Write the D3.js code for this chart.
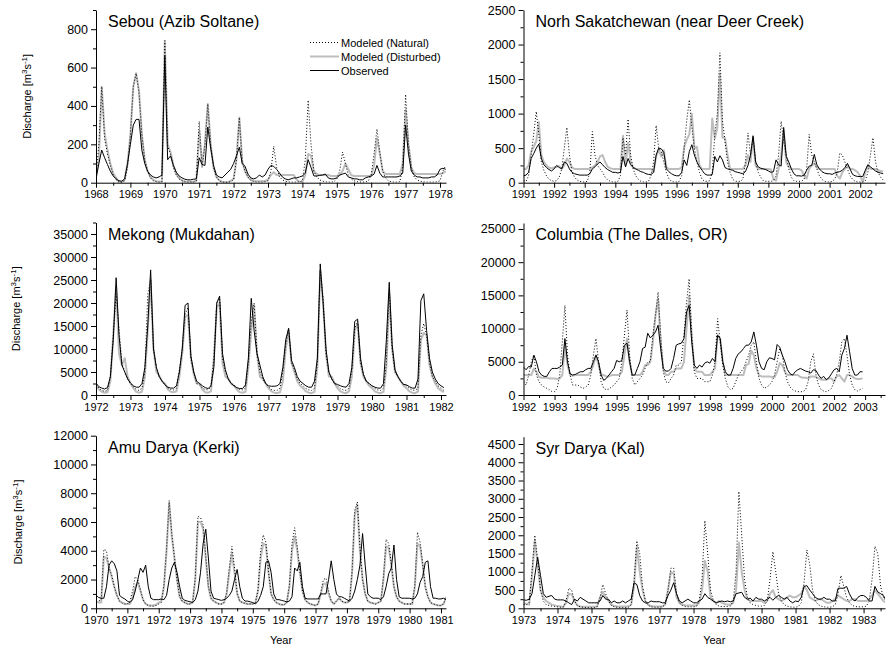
<!DOCTYPE html>
<html><head><meta charset="utf-8">
<script src="https://cdn.jsdelivr.net/npm/d3@7"></script>
<style>
body{margin:0;background:#fff}
text{font-family:Arial,"Liberation Sans",sans-serif;fill:#000}
</style>
</head><body>
<svg id="chart" width="888" height="646"></svg>
<script>
// ---------------- DATA (monthly values, first value = January of start year) ----------------
const seriesNames = ["Modeled (Natural)", "Modeled (Disturbed)", "Observed"];
const panelTitles = ["Sebou (Azib Soltane)", "Norh Sakatchewan (near Deer Creek)", "Mekong (Mukdahan)",
                     "Columbia (The Dalles, OR)", "Amu Darya (Kerki)", "Syr Darya (Kal)"];
const startYears = [1968, 1991, 1972, 1992, 1970, 1973];

// Sebou
const sebouObs = [
 20,100,170,130,95,60,35,20,10,8,20,100,
 200,300,330,330,170,100,60,40,30,25,30,40,
 660,120,140,90,55,35,25,18,15,15,18,20,
 130,95,90,290,180,90,40,30,25,40,55,70,
 100,140,185,100,85,45,25,20,25,40,30,40,
 70,90,85,70,50,30,20,15,20,25,25,30,
 35,50,120,80,35,35,38,40,45,25,20,20,
 25,40,45,50,30,25,20,20,15,15,25,30,
 35,45,90,50,30,30,30,30,30,30,35,50,
 300,150,60,40,30,30,25,25,25,30,30,40,
 70,75,70];
const sebouDist = [
 30,120,500,260,170,100,50,25,5,3,15,100,
 250,500,570,480,250,120,60,30,15,8,5,5,
 740,200,160,90,45,25,12,6,5,5,5,10,
 270,90,200,410,200,80,30,12,5,3,3,10,
 20,120,340,110,60,30,15,10,8,8,8,10,
 15,40,55,40,40,40,40,40,40,40,15,5,
 5,40,150,140,60,45,40,40,40,40,35,35,
 35,40,60,100,70,40,35,35,35,35,35,35,
 35,90,230,150,60,45,45,45,45,45,45,100,
 380,200,80,50,45,45,45,45,45,45,45,45,
 45,50,60];
const sebouNat = [
 40,200,500,230,150,90,40,15,3,2,10,80,
 250,500,570,470,250,120,60,25,10,5,3,5,
 740,190,150,80,40,20,10,5,3,3,3,10,
 320,80,200,410,200,80,30,10,3,2,2,5,
 15,120,340,110,60,30,12,5,3,3,3,5,
 10,60,190,80,30,15,8,5,3,3,3,5,
 10,120,430,200,60,30,15,8,5,3,3,5,
 20,60,160,100,40,20,10,5,3,3,3,10,
 40,150,280,160,60,25,10,5,3,3,5,80,
 460,200,80,30,15,8,5,3,3,3,3,5,
 10,60,90];

// North Saskatchewan
const saskObs = [
 100,110,150,350,420,500,560,350,260,220,190,170,
 200,250,220,200,300,280,200,150,130,120,110,110,
 110,110,130,200,230,270,300,260,220,190,170,150,
 150,140,150,380,230,350,260,220,200,180,160,150,
 130,120,120,150,400,500,490,440,200,160,130,110,
 100,100,150,330,250,450,550,400,300,230,180,130,
 110,110,120,380,300,390,330,220,200,190,180,160,
 150,140,130,160,250,400,680,300,230,210,200,190,
 170,150,160,330,260,240,800,380,300,200,130,100,
 100,95,110,180,240,250,410,260,200,160,140,130,
 130,120,140,150,160,180,220,280,200,120,100,90,
 90,90,180,260,230,200,170,150,140,130];
const saskDist = [
 200,200,250,450,520,600,880,400,300,250,220,210,
 220,230,240,200,250,350,300,220,200,200,200,200,
 200,200,200,220,250,300,380,400,300,230,210,200,
 200,200,200,680,250,580,300,220,200,200,200,200,
 200,200,200,160,380,480,380,470,220,200,200,200,
 200,200,220,520,620,700,1000,500,520,250,200,200,
 200,200,930,640,800,1580,650,650,400,200,200,200,
 200,200,200,250,400,300,650,250,200,200,200,200,
 200,190,50,30,200,400,750,300,230,200,200,200,
 200,180,100,60,200,250,280,220,200,200,200,200,
 200,200,200,100,60,150,200,250,200,200,180,150,
 100,10,150,250,200,200,200,180,170,160];
const saskNat = [
 30,20,100,400,700,1030,700,300,180,100,50,30,
 20,30,80,200,500,800,400,150,80,40,20,10,
 10,20,150,740,400,250,200,150,80,40,20,10,
 10,20,100,650,400,920,400,200,100,50,20,10,
 10,20,100,300,830,500,450,300,150,60,20,10,
 10,20,100,500,900,1200,800,500,300,150,50,20,
 20,30,150,700,1000,1880,900,600,300,150,50,20,
 20,20,50,300,720,400,650,300,150,80,30,20,
 20,20,30,100,400,890,600,400,200,80,30,20,
 20,20,50,200,700,400,300,200,100,50,20,10,
 10,20,50,150,430,400,300,200,100,50,20,10,
 10,10,30,150,400,650,300,150,80,40];

// Mekong
const mekongObs = [
 2600,1800,1500,1300,1600,4000,12000,25500,13000,6500,5000,3500,
 2600,2000,1700,1700,2500,6000,15000,27200,10000,6000,4000,3000,
 2200,1700,1500,1500,2000,5000,10000,19500,20000,8500,5000,3000,
 2500,2000,1600,1400,2000,6000,20000,21500,9000,5500,3500,2500,
 2000,1600,1400,1400,2200,8000,21000,14000,9000,6500,4000,2500,
 2000,1900,1900,2000,2500,6000,12000,14500,7500,6000,4000,3000,
 2500,2000,1700,1700,3000,8000,28500,20000,10000,5000,3500,2500,
 2300,2000,1800,1700,2500,6000,16000,16500,8000,4500,3000,2500,
 2000,1700,1500,1500,2500,12000,24500,11000,5500,4000,3000,2300,
 2200,1800,1500,1500,3500,20500,22000,14000,8000,5000,3500,2500,
 2000,1600];
const mekongDist = [
 2000,1200,700,500,600,3000,13000,23500,9000,6500,8000,4000,
 2500,1500,700,500,700,4000,14000,25000,10000,5000,4200,3000,
 2500,1200,700,600,800,4000,9000,17000,17500,8000,4500,2500,
 2500,1200,600,500,800,8000,19000,20000,7000,4000,3500,2500,
 2000,1200,600,500,700,6000,14000,19500,9000,4000,3500,2500,
 1500,800,500,400,600,3000,10000,14000,7000,5000,3000,2000,
 1500,800,500,400,700,6000,27000,20000,9000,4000,4000,2500,
 1500,800,500,400,800,4000,14000,15500,7000,4000,3000,2000,
 1500,800,500,400,700,6000,22000,10000,5000,4000,3000,2000,
 1500,800,500,400,800,12000,13500,13000,6500,4000,2500,1500,
 1000,600];
const mekongNat = [
 2200,1500,1000,800,1000,4000,13000,22000,14500,7000,5000,3500,
 2500,1800,1200,1000,1500,5000,22000,25000,10000,6000,4000,3000,
 2200,1500,1200,1100,1500,5500,10000,17500,19000,8000,5000,2500,
 2200,1500,1200,1100,1800,8000,20000,21000,8000,5000,3500,2500,
 2200,1500,1200,1100,1500,7000,16000,20000,9000,5000,3500,2500,
 1800,1200,1000,1000,1500,5000,11000,14500,7000,5500,3500,2500,
 2000,1400,1100,1000,1500,7000,27000,21000,9000,5000,3500,2500,
 2000,1400,1100,1000,1500,5500,14500,16000,7000,4500,3000,2500,
 2000,1400,1100,1000,1500,7000,23000,10000,5000,4000,3000,2200,
 2000,1400,1100,1000,1500,13000,15500,13000,7000,4000,3000,2000,
 1500,1000];

// Columbia
const colObs = [
 4200,3800,4300,4200,6000,5000,3500,3000,2800,2800,3500,4000,
 4000,4000,4200,4500,8500,5000,3200,3000,3100,3300,3500,3500,
 3800,4000,4000,5000,6000,5000,3000,2200,2500,3000,3500,4000,
 5200,5000,5200,7500,7800,5000,3000,3000,4000,5000,7000,7200,
 9300,8600,9000,9500,10500,7000,4000,3600,3600,4000,5500,7500,
 7700,7800,8500,12500,13500,8000,4500,4000,4500,4200,4800,5000,
 4800,5500,5000,9000,8500,5000,3500,3000,3000,4000,5500,6200,
 6500,7000,7500,7500,8000,9500,7500,5000,4000,3800,5000,5600,
 5500,5300,7600,7200,6000,5000,3800,3200,3000,3500,3800,4000,
 3800,3600,3500,3300,3800,3700,3000,2500,2800,2300,2600,3200,
 3800,4000,3500,6000,7000,9000,6500,4000,3000,3000,3500,3500];
const colDist = [
 3000,3000,3000,3000,4000,3500,2700,2600,2600,2600,2500,2500,
 2500,2400,2500,3000,7500,4500,3000,2900,3000,3000,3000,3000,
 3000,3000,3500,4500,6000,4500,3000,3000,2800,2800,3000,3000,
 3000,3000,3500,6000,8500,5000,3000,3000,3000,3000,3500,4500,
 4500,5000,8000,12000,14500,8000,4000,3000,3000,3500,3500,4000,
 4000,4000,5000,10000,15000,9000,4000,3500,3500,3500,3000,3000,
 3000,3500,4000,9000,8500,5000,3000,3000,3000,3000,3000,3000,
 3000,3000,4500,4700,6700,6000,4000,3000,2800,2800,2800,2800,
 2700,2700,3500,4800,4500,3500,3000,3000,3000,3000,3000,2700,
 2600,2600,2500,2800,2800,2700,2500,2300,2300,2300,2500,2500,
 2000,2800,3000,2500,2000,3000,3000,2800,2500,2400,2400,2500];
const colNat = [
 2000,1500,3000,5000,6000,3000,2000,1500,1200,1000,800,500,
 500,1000,3000,8000,13500,6000,3000,1500,1500,1500,1200,1000,
 1200,1500,3000,6000,8500,5000,2000,1000,800,900,1200,1500,
 2000,2500,5000,9000,12800,6000,2500,1500,2000,2500,3000,4000,
 5000,5000,9000,12000,15500,9000,3500,2000,1800,2500,3000,4500,
 4500,5000,9000,14000,17500,9000,3500,2500,2500,2500,2000,2000,
 2000,3000,5000,11500,8000,4500,2500,1200,800,1000,2000,3000,
 3500,4000,5000,6000,7500,8000,5000,2500,1500,1000,1200,1500,
 2000,3000,5000,7000,6000,3500,2000,1200,800,600,500,500,
 500,800,2000,5000,6200,3000,1500,800,600,500,700,1000,
 2000,3000,5000,8000,8500,6000,3000,1500,800,600,800,1000];

// Amu Darya
const amuObs = [
 900,750,700,700,1500,3000,3300,3100,2600,900,750,650,
 500,400,600,1200,2000,2800,2500,3000,1500,700,600,600,
 600,650,600,900,2000,2800,3200,2500,1500,700,550,500,
 450,400,600,1200,2500,4500,5500,3500,1200,700,650,600,
 550,600,700,900,1200,2000,2700,1500,700,500,500,450,
 400,300,500,900,1500,3200,3300,2500,1000,600,600,550,
 500,450,500,800,2800,2600,3200,1500,700,650,650,650,
 650,650,1000,1000,1000,2000,3300,2000,1000,800,800,700,
 600,500,700,1200,2000,3000,5200,3000,1000,800,700,700,
 700,600,800,1500,2400,2800,4400,2000,800,700,700,700,
 700,650,700,1000,1800,2200,3200,3300,1500,700,700,650,
 650,700,600];
const amuDist = [
 450,400,400,3600,3500,2800,2200,1500,900,500,400,300,
 300,300,800,1500,1800,1200,600,300,200,200,200,250,
 400,500,1500,4000,7300,5000,3500,2000,800,500,400,300,
 300,400,2000,6000,6000,5500,3500,1500,700,500,400,300,
 300,400,1000,2500,3800,2500,1000,500,400,350,300,300,
 300,400,1200,3500,4500,4400,2500,1000,600,400,300,250,
 250,400,1500,4000,5000,4000,2500,1200,600,400,300,250,
 200,300,1000,1700,1700,1000,500,300,500,700,500,400,
 400,500,2500,6500,7200,4000,2000,1000,500,400,350,300,
 400,500,2000,4300,4200,3000,1500,800,500,400,300,300,
 300,300,1500,4500,4300,3000,1500,800,400,300,250,200,
 200,300,800];
const amuNat = [
 500,500,600,4100,4000,2800,2300,1500,900,500,350,300,
 300,500,1200,2200,2000,1300,600,300,200,150,150,200,
 300,400,1600,4200,7500,5200,3600,2000,800,500,400,300,
 300,500,2200,6400,6300,5800,3600,1500,700,500,400,300,
 300,400,1100,2800,4300,2800,1100,500,400,350,300,300,
 300,400,1300,4000,5100,4600,2600,1000,600,400,300,250,
 250,400,1600,4500,5600,4300,2600,1200,600,400,300,250,
 200,300,1100,2000,2100,1200,500,300,500,700,500,400,
 400,500,2600,6800,7400,4200,2000,1000,500,400,350,300,
 400,500,2200,4800,4500,3100,1500,800,500,400,300,300,
 300,300,1600,5300,4600,3100,1500,800,400,300,250,200,
 200,300,800];

// Syr Darya
const syrObs = [
 230,220,250,400,900,1400,900,400,300,330,350,250,
 230,230,230,200,150,100,250,200,300,250,200,150,
 150,150,150,200,350,250,250,150,200,150,150,200,
 150,200,250,700,650,350,200,150,150,200,180,180,
 180,150,150,350,500,700,400,200,150,200,250,200,
 150,150,200,250,400,300,250,200,150,180,200,180,
 200,180,200,400,420,440,300,250,280,200,300,250,
 250,200,250,300,220,300,350,300,250,300,200,150,
 200,180,300,600,620,500,400,300,250,250,300,250,
 250,200,200,550,550,550,600,400,250,200,300,350,
 350,300,200,200,600,450,400,350,200];
const syrDist = [
 150,120,100,900,1850,1200,500,300,200,150,100,80,
 60,50,40,150,400,380,200,80,50,40,40,40,
 40,40,50,300,450,300,200,100,60,50,50,50,
 50,50,100,600,1700,1000,500,200,100,60,50,50,
 50,50,100,500,1000,950,300,150,100,80,80,80,
 80,80,150,500,1300,1000,300,200,150,200,150,120,
 100,100,150,500,1800,1000,500,250,200,200,200,200,
 200,150,200,400,500,300,250,200,250,300,350,300,
 300,350,400,600,500,300,250,200,250,250,200,150,
 150,200,250,350,300,250,200,200,250,250,200,200,
 200,200,250,350,500,400,300,200,150];
const syrNat = [
 100,100,150,1000,2000,1300,500,200,100,80,60,50,
 40,30,30,200,550,500,200,80,40,30,20,20,
 20,20,50,300,650,400,200,80,40,30,20,20,
 20,30,100,700,1850,1500,600,200,80,40,30,30,
 30,40,100,500,1100,1100,400,150,80,50,40,40,
 40,50,200,800,2400,1500,500,200,100,60,50,50,
 50,60,200,1000,3200,2000,800,300,150,100,80,60,
 60,80,200,800,1550,1000,400,200,100,60,40,30,
 30,50,150,700,1600,1200,500,200,100,60,40,30,
 30,40,100,400,900,600,300,150,80,50,40,40,
 40,60,200,800,1700,1500,600,300,200];

// ---------------- LAYOUT ----------------
const panels = [
 {title:panelTitles[0], start:startYears[0], nat:sebouNat, dist:sebouDist, obs:sebouObs,
  x0:96, x1:446, yb:182.7, yt:10, xEnd:1978.174, yMax:900, yStep:200, yMinor:100, ylab:true, ylabX:31, legend:true},
 {title:panelTitles[1], start:startYears[1], nat:saskNat, dist:saskDist, obs:saskObs,
  x0:523.5, x1:885, yb:182.7, yt:10, xEnd:2002.81, yMax:2500, yStep:500, yMinor:250},
 {title:panelTitles[2], start:startYears[2], nat:mekongNat, dist:mekongDist, obs:mekongObs,
  x0:96, x1:446, yb:395, yt:222.5, xEnd:1982.145, yMax:37500, yStep:5000, yMinor:2500, ylab:true, ylabX:20},
 {title:panelTitles[3], start:startYears[3], nat:colNat, dist:colDist, obs:colObs,
  x0:523.5, x1:885, yb:395, yt:223, xEnd:2003.64, yMax:25900, yStep:5000, yMinor:2500},
 {title:panelTitles[4], start:startYears[4], nat:amuNat, dist:amuDist, obs:amuObs,
  x0:96, x1:446, yb:608.3, yt:435.7, xEnd:1981.16, yMax:12000, yStep:2000, yMinor:1000, ylab:true, ylabX:22, xlab:true},
 {title:panelTitles[5], start:startYears[5], nat:syrNat, dist:syrDist, obs:syrObs,
  x0:523.5, x1:885, yb:608.3, yt:436.7, xEnd:1983.63, yMax:4700, yStep:500, yMinor:250, xlab:true}
];

const svg = d3.select("#chart");
const styles = {
  nat:  {stroke:"#000", width:1, dash:"1,2"},
  dist: {stroke:"#bdbdbd", width:2, dash:null},
  obs:  {stroke:"#000", width:1, dash:null}
};

panels.forEach((p, i) => {
  const g = svg.append("g");
  const x = d3.scaleLinear().domain([p.start, p.xEnd]).range([p.x0, p.x1]);
  const y = d3.scaleLinear().domain([0, p.yMax]).range([p.yb, p.yt]);

  const clipId = "clip" + i;
  g.append("clipPath").attr("id", clipId).append("rect")
    .attr("x", p.x0).attr("y", p.yt - 2).attr("width", p.x1 - p.x0).attr("height", p.yb - p.yt + 2);

  const line = d3.line().x(d => x(d.t)).y(d => y(d.v));
  const toPts = arr => arr.map((v, k) => ({t: p.start + k / 12, v}));

  ["dist", "nat", "obs"].forEach(k => {
    const s = styles[k];
    g.append("path").datum(toPts(p[k]))
      .attr("clip-path", `url(#${clipId})`)
      .attr("fill", "none").attr("stroke", s.stroke).attr("stroke-width", s.width)
      .attr("stroke-dasharray", s.dash).attr("stroke-linejoin", "round")
      .attr("d", line);
  });

  // axes
  const yrs = d3.range(Math.ceil(p.start), Math.floor(p.xEnd) + 1);
  const half = d3.range(p.start + 0.5, p.xEnd, 1);
  const xAxis = d3.axisBottom(x).tickValues(yrs).tickFormat(d3.format("d")).tickSize(5).tickSizeOuter(0).tickPadding(3);
  const xMinor = d3.axisBottom(x).tickValues(half).tickFormat("").tickSize(3).tickSizeOuter(0);
  const gx = g.append("g").attr("transform", `translate(0,${p.yb})`).call(xAxis);
  g.append("g").attr("transform", `translate(0,${p.yb})`).call(xMinor).select(".domain").remove();
  gx.selectAll("text").attr("font-size", 11).attr("font-family", "Arial, Liberation Sans, sans-serif");

  const yTicks = d3.range(0, p.yMax + 1, p.yStep);
  const yMin = d3.range(p.yMinor, p.yMax + 1, p.yStep).filter(v => v <= p.yMax);
  const yAxis = d3.axisLeft(y).tickValues(yTicks).tickFormat(d3.format("d")).tickSize(5).tickSizeOuter(0).tickPadding(3);
  const yMinorAx = d3.axisLeft(y).tickValues(yMin).tickFormat("").tickSize(3).tickSizeOuter(0);
  const gy = g.append("g").attr("transform", `translate(${p.x0},0)`).call(yAxis);
  g.append("g").attr("transform", `translate(${p.x0},0)`).call(yMinorAx).select(".domain").remove();
  gy.selectAll("text").attr("font-size", 12.5).attr("font-family", "Arial, Liberation Sans, sans-serif");
  g.selectAll(".domain, .tick line").attr("stroke", "#000").attr("stroke-width", 1);

  // title
  g.append("text").attr("x", p.x0 + 12).attr("y", p.yt + 17)
    .attr("font-size", 16).text(p.title);

  // y label
  if (p.ylab) {
    const t = g.append("text")
      .attr("transform", `translate(${p.ylabX},${(p.yb + p.yt) / 2}) rotate(-90)`)
      .attr("text-anchor", "middle").attr("font-size", 11);
    t.append("tspan").text("Discharge [m");
    t.append("tspan").attr("baseline-shift", "super").attr("font-size", 8).text("3");
    t.append("tspan").text("s");
    t.append("tspan").attr("baseline-shift", "super").attr("font-size", 8).text("-1");
    t.append("tspan").text("]");
  }
  if (p.xlab) {
    g.append("text").attr("x", (p.x0 + p.x1) / 2 + 10).attr("y", 644)
      .attr("text-anchor", "middle").attr("font-size", 11).text("Year");
  }
  if (p.legend) {
    const lg = g.append("g");
    ["nat", "dist", "obs"].forEach((k, j) => {
      const s = styles[k];
      const yy = 42.5 + j * 14;
      lg.append("line").attr("x1", 310).attr("x2", 339).attr("y1", yy).attr("y2", yy)
        .attr("stroke", s.stroke).attr("stroke-width", s.width).attr("stroke-dasharray", s.dash);
      lg.append("text").attr("x", 341).attr("y", yy + 4).attr("font-size", 11).text(seriesNames[j]);
    });
  }
});
</script>
</body></html>
